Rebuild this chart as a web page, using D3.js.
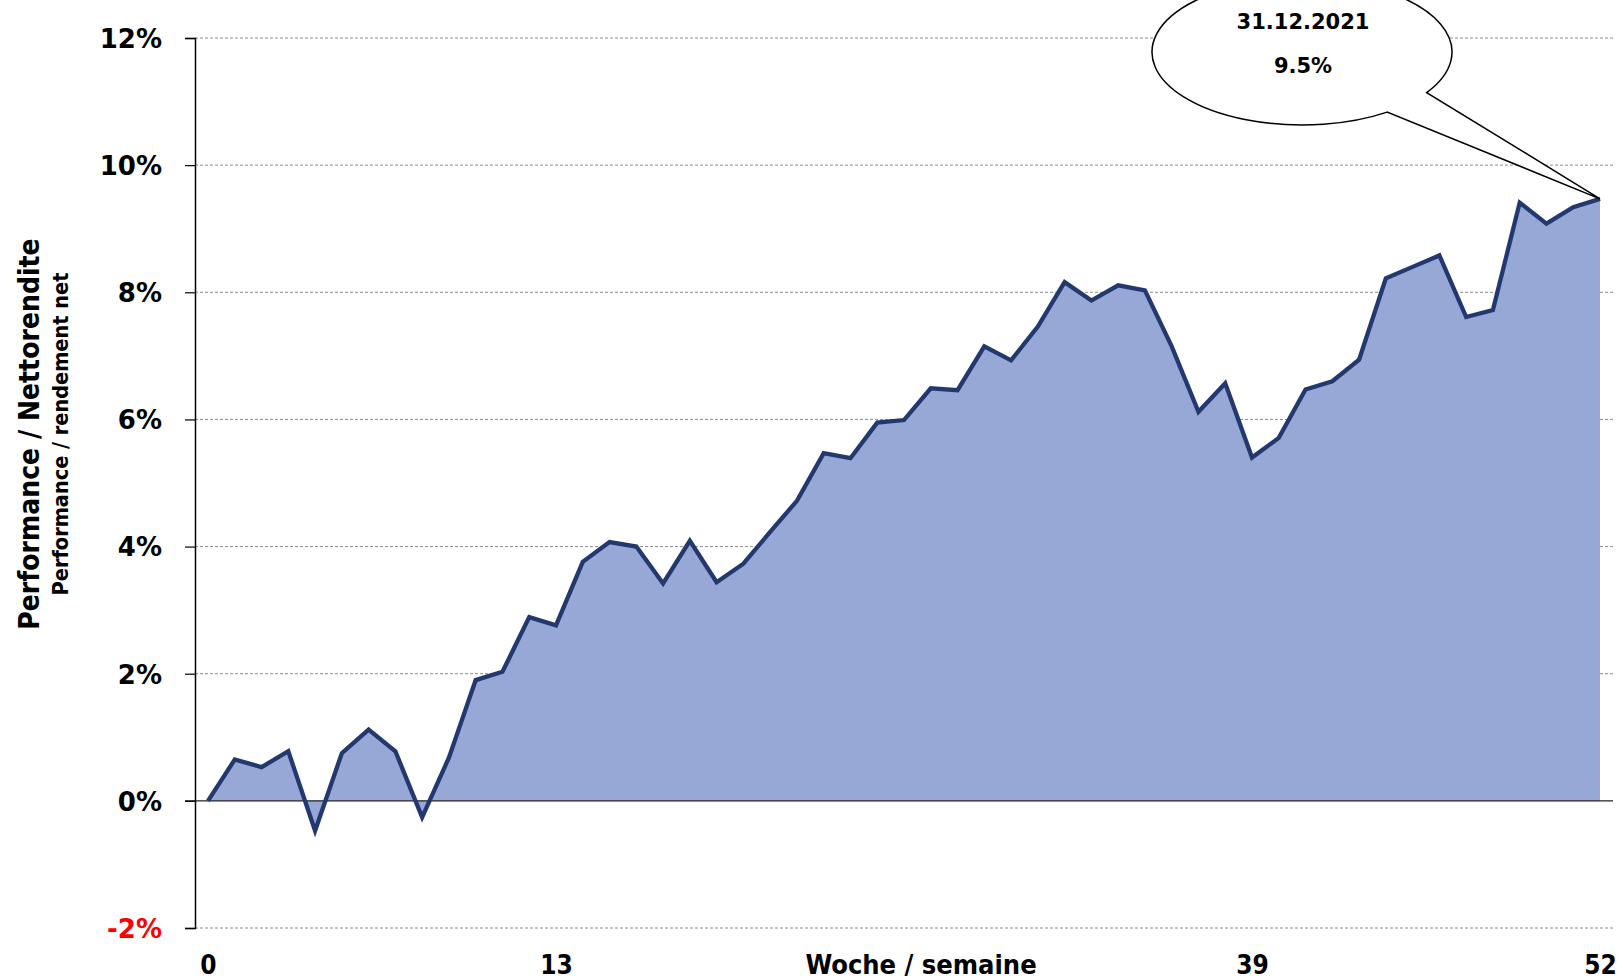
<!DOCTYPE html>
<html>
<head>
<meta charset="utf-8">
<script src="https://cdn.jsdelivr.net/npm/d3@7/dist/d3.min.js"></script>
<style>
html,body{margin:0;padding:0;background:#fff;}
svg{display:block;}
</style>
</head>
<body>
<svg id="chart" width="1617" height="980"></svg>
<script>
// ---- data ----
const weeks = d3.range(0, 53);
const performance = [
  0.00, 0.65, 0.53, 0.78, -0.47, 0.75, 1.12, 0.78, -0.26, 0.68,
  1.90, 2.03, 2.89, 2.76, 3.76, 4.07, 4.00, 3.42, 4.09, 3.44,
  3.73, 4.23, 4.72, 5.47, 5.39, 5.95, 5.99, 6.49, 6.46, 7.15,
  6.93, 7.46, 8.16, 7.87, 8.11, 8.03, 7.15, 6.12, 6.57, 5.40,
  5.71, 6.47, 6.60, 6.94, 8.22, 8.40, 8.58, 7.61, 7.72, 9.41,
  9.08, 9.34, 9.47
];
const yTicks = [-2, 0, 2, 4, 6, 8, 10, 12];
const xTickLabels = [0, 13, 39, 52];
const xAxisTitle = "Woche / semaine";
const yAxisTitle = "Performance / Nettorendite";
const yAxisSubTitle = "Performance / rendement net";
const calloutDate = "31.12.2021";
const calloutValue = "9.5%";

// ---- layout ----
const svg = d3.select("#chart");
const axisX = 195, plotRight = 1613;
const x = d3.scaleLinear().domain([0, 52]).range([208, 1600]);
const y = d3.scaleLinear().domain([-2, 12]).range([928, 38]);

const data = weeks.map((w, i) => ({w, v: performance[i]}));

// gridlines
svg.append("g").selectAll("line").data(yTicks.filter(t => t !== 0)).join("line")
  .attr("x1", axisX).attr("x2", plotRight)
  .attr("y1", d => y(d)).attr("y2", d => y(d))
  .attr("stroke", "#8c8c8c").attr("stroke-width", 1)
  .attr("stroke-dasharray", "3,2");

// area
const area = d3.area().x(d => x(d.w)).y0(y(0)).y1(d => y(d.v));
svg.append("path").datum(data).attr("d", area).attr("fill", "#97A7D6");

// zero line
svg.append("line").attr("x1", 185).attr("x2", plotRight)
  .attr("y1", y(0)).attr("y2", y(0))
  .attr("stroke", "#222").attr("stroke-width", 1.2);

// line
const line = d3.line().x(d => x(d.w)).y(d => y(d.v));
svg.append("path").datum(data).attr("d", line)
  .attr("fill", "none").attr("stroke", "#23386F")
  .attr("stroke-width", 4.3).attr("stroke-linejoin", "miter").attr("stroke-linecap", "butt");

// y axis
const yAxis = d3.axisLeft(y).tickValues(yTicks).tickSize(10)
  .tickFormat(d => d + "%").tickPadding(23);
const gy = svg.append("g").attr("transform", `translate(${axisX},0)`).call(yAxis);
gy.select(".domain").attr("stroke", "#000").attr("stroke-width", 1.5);
gy.selectAll(".tick line").attr("stroke", "#000").attr("stroke-width", 1.2);
gy.selectAll(".tick text")
  .attr("font-family", "DejaVu Sans, sans-serif")
  .attr("font-weight", "bold").attr("font-size", 26)
  .attr("fill", d => d < 0 ? "#FF0000" : "#000")
  .attr("dy", "0.36em");

// x axis labels
const xAxis = d3.axisBottom(x).tickValues(xTickLabels).tickSize(0).tickPadding(0);
const gx = svg.append("g").attr("transform", `translate(0,${y(-2)})`).call(xAxis);
gx.select(".domain").remove();
gx.selectAll(".tick text")
  .attr("font-family", "DejaVu Sans Condensed, DejaVu Sans, sans-serif")
  .attr("font-weight", "bold").attr("font-size", 26)
  .attr("fill", "#000").attr("dy", null).attr("y", 46);

svg.append("text").attr("x", 921).attr("y", y(-2) + 46)
  .attr("text-anchor", "middle")
  .attr("font-family", "DejaVu Sans Condensed, DejaVu Sans, sans-serif")
  .attr("font-weight", "bold").attr("font-size", 27)
  .text(xAxisTitle);

// y axis titles
svg.append("text").attr("transform", "translate(39,434) rotate(-90)")
  .attr("text-anchor", "middle")
  .attr("font-family", "DejaVu Sans Condensed, DejaVu Sans, sans-serif")
  .attr("font-weight", "bold").attr("font-size", 28)
  .text(yAxisTitle);
svg.append("text").attr("transform", "translate(68,434) rotate(-90)")
  .attr("text-anchor", "middle")
  .attr("font-family", "DejaVu Sans Condensed, DejaVu Sans, sans-serif")
  .attr("font-weight", "bold").attr("font-size", 21.5)
  .text(yAxisSubTitle);

// callout
const last = data[data.length - 1];
const tipX = x(last.w), tipY = y(last.v);
const cx = 1302, cy = 52, rx = 150, ry = 73;
const angA = Math.atan2((93 - cy) / ry, (1428 - cx) / rx);
const angB = Math.atan2((112 - cy) / ry, (1387 - cx) / rx);
const A = [cx + rx * Math.cos(angA), cy + ry * Math.sin(angA)];
const B = [cx + rx * Math.cos(angB), cy + ry * Math.sin(angB)];
svg.append("path")
  .attr("d", `M${A[0]},${A[1]} A${rx},${ry} 0 1 0 ${B[0]},${B[1]} L${tipX},${tipY} Z`)
  .attr("fill", "#fff").attr("stroke", "#000").attr("stroke-width", 1.5)
  .attr("stroke-linejoin", "miter");
svg.append("text").attr("x", 1303).attr("y", 29).attr("text-anchor", "middle")
  .attr("font-family", "DejaVu Sans, sans-serif").attr("font-weight", "bold")
  .attr("font-size", 21).text(calloutDate);
svg.append("text").attr("x", 1303).attr("y", 73).attr("text-anchor", "middle")
  .attr("font-family", "DejaVu Sans, sans-serif").attr("font-weight", "bold")
  .attr("font-size", 21).text(calloutValue);
</script>
</body>
</html>
